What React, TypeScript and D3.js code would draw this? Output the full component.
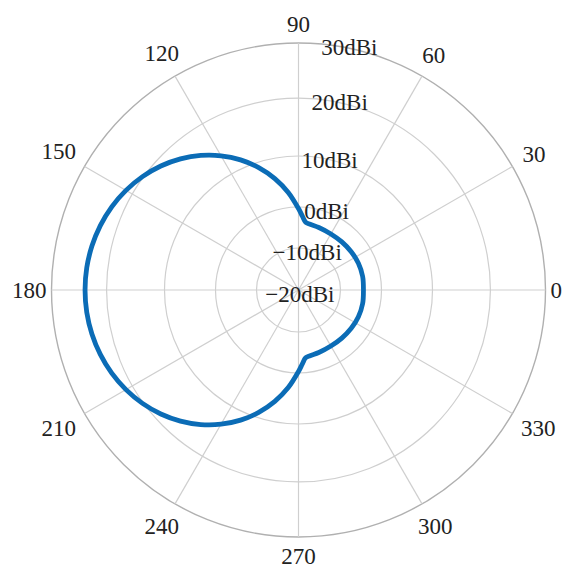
import React from "react";
import * as d3 from "d3";

// ---- data ----
const angleTicks = [0, 30, 60, 90, 120, 150, 180, 210, 240, 270, 300, 330];
const gainTicks = [-20, -10, 0, 10, 20, 30];
const gainTickLabels = ["\u221220dBi", "\u221210dBi", "0dBi", "10dBi", "20dBi", "30dBi"];
const ringRadiiFrac = [0, 0.17, 0.336, 0.5425, 0.777, 1]; // uneven ring spacing of the original radial axis

const patternAngles = [
  0, 12, 24, 36, 48, 60, 72, 80, 84, 87, 90, 96, 102, 108, 114, 120, 126, 132, 138, 144, 150, 156, 162, 168, 174, 180,
  186, 192, 198, 204, 210, 216, 222, 228, 234, 240, 246, 252, 258, 264, 270, 273, 276, 280, 288, 300, 312, 324, 336, 348,
];
const patternGain = [
  -4.4, -4.25, -4.25, -4.35, -4.45, -4.45, -4.2, -3.95, -3.6, -2.2, -0.37, 2.96, 6.06, 8.96, 11.46, 13.62, 15.58, 17.32, 18.85, 20.17, 21.33, 22.27, 22.99, 23.5, 23.81, 23.91,
  23.81, 23.5, 22.99, 22.27, 21.33, 20.17, 18.85, 17.32, 15.58, 13.62, 11.46, 8.96, 6.06, 2.96, -0.37, -2.2, -3.6, -3.95, -4.2, -4.45, -4.45, -4.35, -4.25, -4.25,
];

const W = 567;
const H = 568;
const cx = 298.5;
const cy = 290;
const R = 247;
const FONT = "'Liberation Serif', 'Times New Roman', serif";
const FS = 23;

export default function App() {
  const r = d3
    .scaleLinear()
    .domain(gainTicks)
    .range(ringRadiiFrac.map((f) => f * R));

  const toRad = (deg: number) => (deg * Math.PI) / 180;

  const pts = patternAngles.map((a, i) => ({ a, g: patternGain[i] }));
  const line = d3
    .lineRadial<{ a: number; g: number }>()
    .angle((d) => Math.PI / 2 - toRad(d.a))
    .radius((d) => r(d.g))
    .curve(d3.curveCatmullRomClosed.alpha(0.5));

  const hh = 8;

  return (
    <svg
      width={W}
      height={H}
      style={{ position: "absolute", left: 0, top: 0, background: "#fff" }}
      fontFamily={FONT}
    >
      <rect x={0} y={0} width={W} height={H} fill="#fff" />
      <g transform={`translate(${cx},${cy})`}>
        {gainTicks.slice(1).map((g) => (
          <circle
            key={"ring" + g}
            r={r(g)}
            fill="none"
            stroke={g === 30 ? "#b0b0b0" : "#cfcfcf"}
            strokeWidth={g === 30 ? 1.4 : 1.2}
          />
        ))}
        {angleTicks.map((a) => (
          <line
            key={"sp" + a}
            x1={0}
            y1={0}
            x2={R * Math.cos(toRad(a))}
            y2={-R * Math.sin(toRad(a))}
            stroke="#cfcfcf"
            strokeWidth={1.2}
          />
        ))}
        <path d={line(pts) || ""} fill="none" stroke="#0b6cb6" strokeWidth={4.8} strokeLinejoin="round" />
        {angleTicks.map((a) => {
          const label = String(a);
          const hw = (label.length * 0.5 * FS) / 2;
          const ux = Math.cos(toRad(a));
          const uy = -Math.sin(toRad(a));
          const sup = Math.abs(ux) * hw + Math.abs(uy) * hh;
          const gap = a % 180 === 0 ? 5 : 11;
          const rr = R + gap + sup;
          return (
            <text
              key={"al" + a}
              x={rr * ux}
              y={rr * uy}
              textAnchor="middle"
              dominantBaseline="central"
              fontSize={FS}
              fill="#222"
            >
              {label}
            </text>
          );
        })}
        {gainTicks.map((g, i) => (
          <text
            key={"gl" + g}
            x={r(g) * Math.cos(toRad(80)) + 36}
            y={-r(g) + 12}
            textAnchor="end"
            fontSize={FS}
            fill="#222"
          >
            {gainTickLabels[i]}
          </text>
        ))}
      </g>
    </svg>
  );
}
